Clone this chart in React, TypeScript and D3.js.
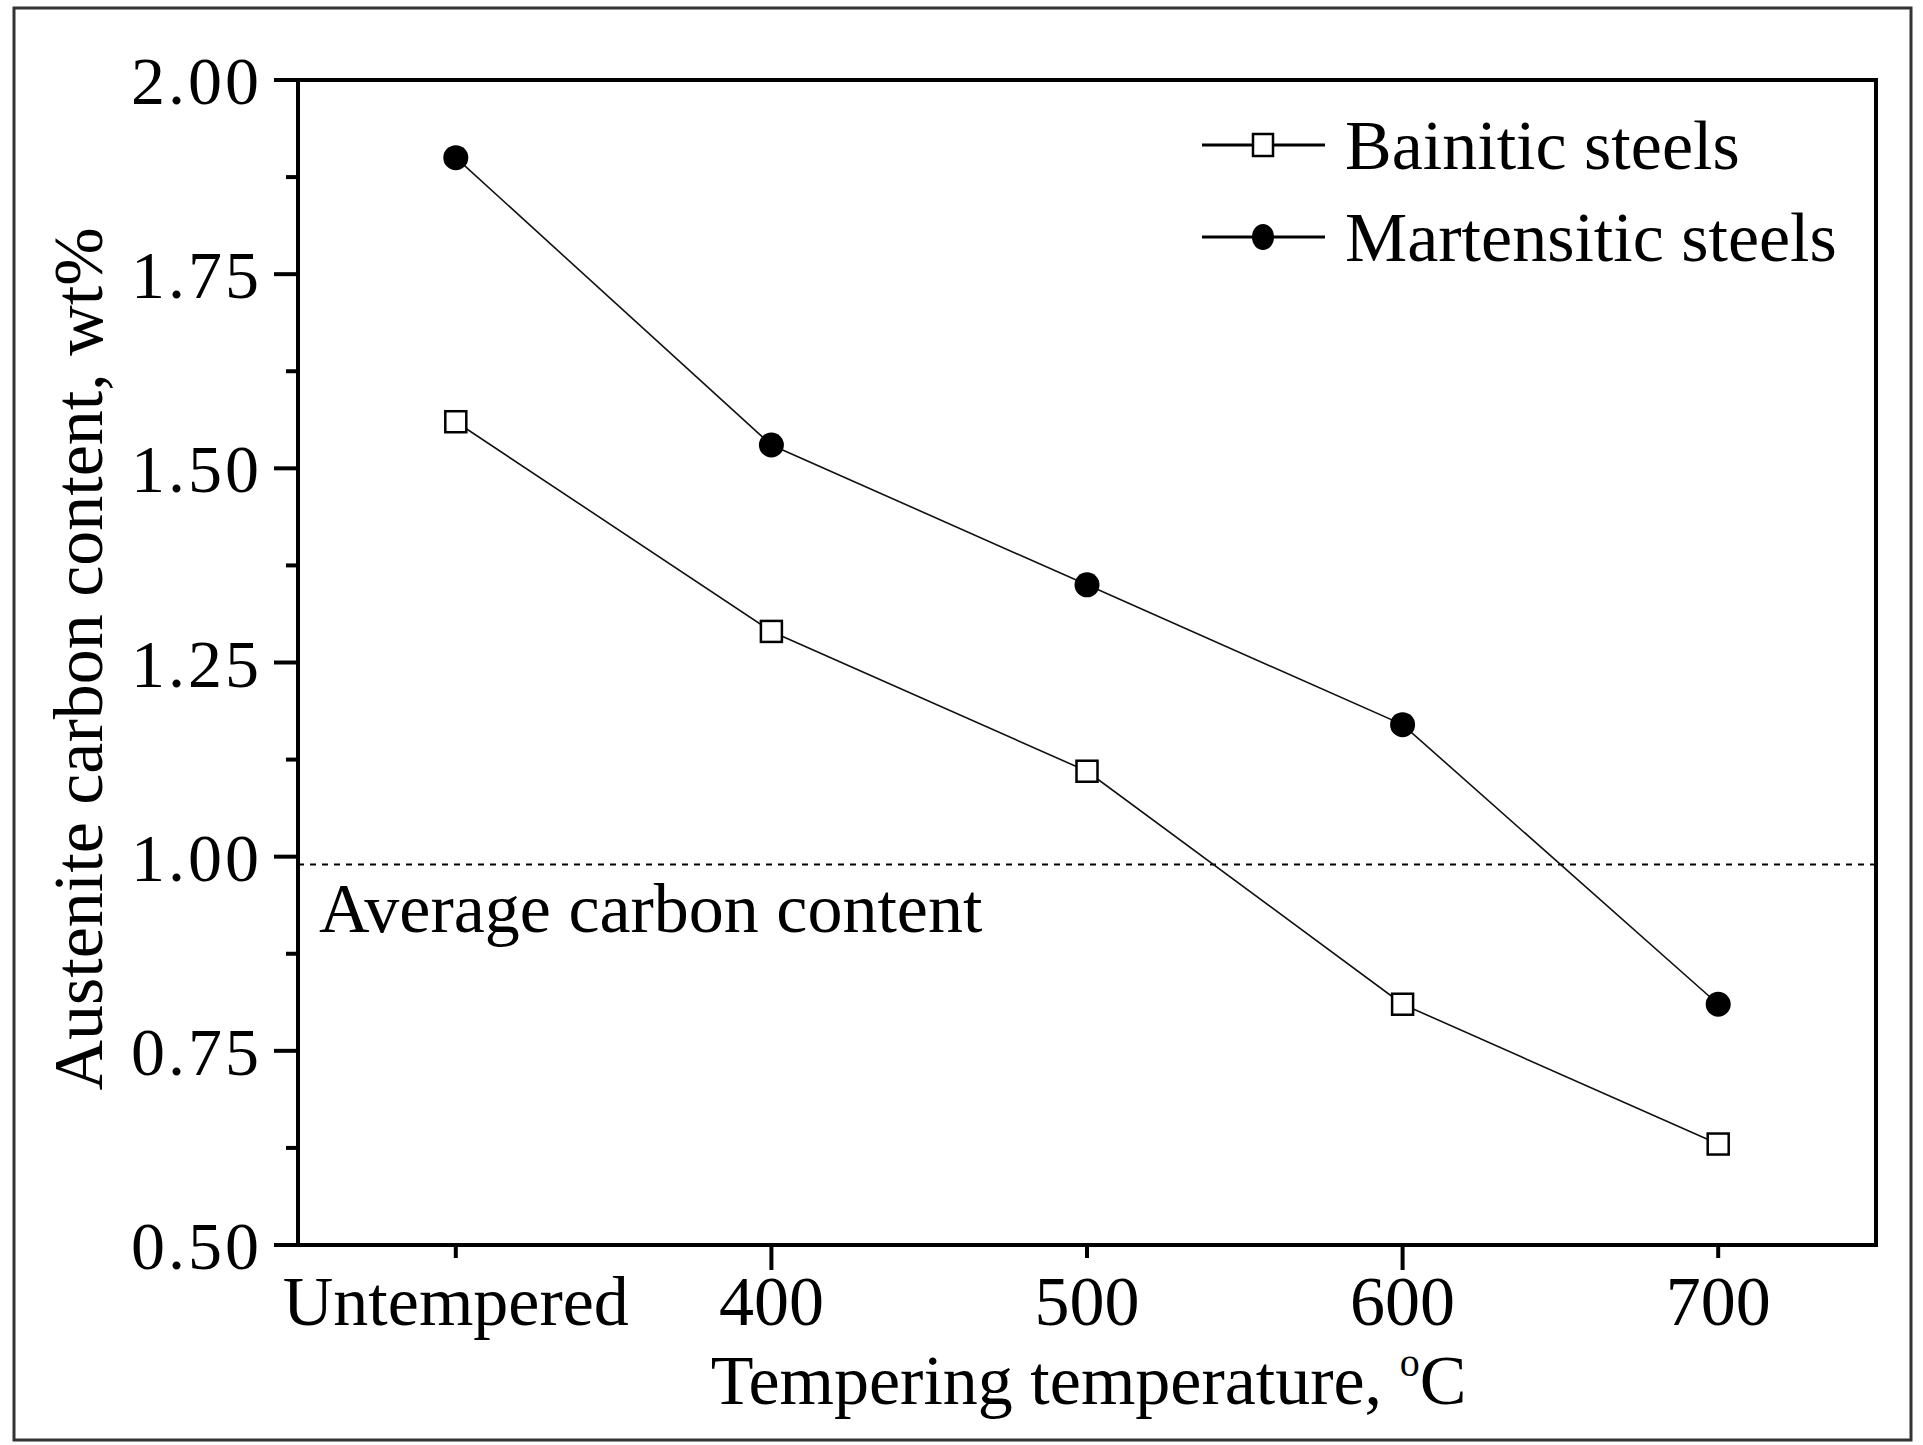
import React, { useRef, useEffect } from 'react';
import * as d3 from 'd3';

// tempering condition on the x axis
const CATEGORIES = ['Untempered', '400', '500', '600', '700'];
const BAINITIC = [1.56, 1.29, 1.11, 0.81, 0.63];
const MARTENSITIC = [1.9, 1.53, 1.35, 1.17, 0.81];
const Y_TICKS = [0.5, 0.75, 1.0, 1.25, 1.5, 1.75, 2.0];
const Y_MINOR = [0.625, 0.875, 1.125, 1.375, 1.625, 1.875];
const AVERAGE_CARBON = 0.99;

const W = 1923;
const H = 1445;
const FONT = '"Liberation Serif", "Times New Roman", serif';

function App() {
  const ref = useRef<SVGSVGElement>(null);

  useEffect(() => {
    const svg = d3.select(ref.current);
    svg.selectAll('*').remove();

    const left = 298, right = 1876, top = 80, bottom = 1245;

    const x = d3.scaleLinear().domain([-0.5, 4.5]).range([left, right]);
    const y = d3.scaleLinear().domain([0.5, 2.0]).range([bottom, top]);

    svg.append('rect').attr('width', W).attr('height', H).attr('fill', '#fff');

    // outer frame
    svg.append('rect')
      .attr('x', 14).attr('y', 8)
      .attr('width', 1897).attr('height', 1432)
      .attr('fill', 'none')
      .attr('stroke', '#333')
      .attr('stroke-width', 3);

    // plot box
    svg.append('rect')
      .attr('x', left).attr('y', top)
      .attr('width', right - left).attr('height', bottom - top)
      .attr('fill', 'none')
      .attr('stroke', '#000')
      .attr('stroke-width', 4);

    // y ticks
    const yAxis = svg.append('g');
    Y_TICKS.forEach(v => {
      yAxis.append('line')
        .attr('x1', left - 24).attr('x2', left)
        .attr('y1', y(v)).attr('y2', y(v))
        .attr('stroke', '#000').attr('stroke-width', 4);
      yAxis.append('text')
        .attr('x', left - 36)
        .attr('y', y(v) + 24)
        .attr('text-anchor', 'end')
        .attr('font-family', FONT)
        .attr('font-size', 68)
        .attr('letter-spacing', 3)
        .text(v.toFixed(2));
    });
    Y_MINOR.forEach(v => {
      yAxis.append('line')
        .attr('x1', left - 12).attr('x2', left)
        .attr('y1', y(v)).attr('y2', y(v))
        .attr('stroke', '#000').attr('stroke-width', 4);
    });

    // x ticks
    const xAxis = svg.append('g');
    CATEGORIES.forEach((c, i) => {
      const len = i % 2 === 1 ? 25 : 13;
      xAxis.append('line')
        .attr('x1', x(i)).attr('x2', x(i))
        .attr('y1', bottom).attr('y2', bottom + len)
        .attr('stroke', '#000').attr('stroke-width', 4);
      xAxis.append('text')
        .attr('x', x(i))
        .attr('y', bottom + 80)
        .attr('text-anchor', 'middle')
        .attr('font-family', FONT)
        .attr('font-size', 70)
        .text(c);
    });

    // axis titles
    const xTitle = svg.append('text')
      .attr('x', (699 + 1478) / 2)
      .attr('y', 1404)
      .attr('text-anchor', 'middle')
      .attr('font-family', FONT)
      .attr('font-size', 70);
    xTitle.append('tspan').text('Tempering temperature, ');
    xTitle.append('tspan').attr('font-size', 40).attr('dy', -28).text('o');
    xTitle.append('tspan').attr('dy', 28).text('C');

    svg.append('text')
      .attr('transform', `translate(102, 659) rotate(-90)`)
      .attr('text-anchor', 'middle')
      .attr('font-family', FONT)
      .attr('font-size', 70)
      .text('Austenite carbon content, wt%');

    // average carbon line
    svg.append('line')
      .attr('x1', left).attr('x2', right)
      .attr('y1', y(AVERAGE_CARBON)).attr('y2', y(AVERAGE_CARBON))
      .attr('stroke', '#000')
      .attr('stroke-width', 2)
      .attr('stroke-dasharray', '6,6');
    svg.append('text')
      .attr('x', 319)
      .attr('y', 932)
      .attr('font-family', FONT)
      .attr('font-size', 70)
      .text('Average carbon content');

    const line = d3.line<number>()
      .x((d, i) => x(i))
      .y(d => y(d));

    // series
    svg.append('path')
      .attr('d', line(BAINITIC))
      .attr('fill', 'none')
      .attr('stroke', '#111')
      .attr('stroke-width', 1.6);
    svg.append('path')
      .attr('d', line(MARTENSITIC))
      .attr('fill', 'none')
      .attr('stroke', '#111')
      .attr('stroke-width', 1.6);

    svg.append('g').selectAll('rect')
      .data(BAINITIC)
      .enter()
      .append('rect')
      .attr('x', (d, i) => x(i) - 10.5)
      .attr('y', d => y(d) - 10.5)
      .attr('width', 21).attr('height', 21)
      .attr('fill', '#fff')
      .attr('stroke', '#000')
      .attr('stroke-width', 2.5);

    svg.append('g').selectAll('circle')
      .data(MARTENSITIC)
      .enter()
      .append('circle')
      .attr('cx', (d, i) => x(i))
      .attr('cy', d => y(d))
      .attr('r', 12.5)
      .attr('fill', '#000');

    // legend
    const legend = svg.append('g');
    [['Bainitic steels', 'square', 145], ['Martensitic steels', 'circle', 237]].forEach(([label, shape, ly]) => {
      const row = legend.append('g').attr('transform', `translate(0, ${ly})`);
      row.append('line')
        .attr('x1', 1202).attr('x2', 1325)
        .attr('y1', 0).attr('y2', 0)
        .attr('stroke', '#000').attr('stroke-width', 3);
      if (shape === 'square') {
        row.append('rect')
          .attr('x', 1253).attr('y', -11)
          .attr('width', 20).attr('height', 22)
          .attr('fill', '#fff').attr('stroke', '#000').attr('stroke-width', 2.5);
      } else {
        row.append('ellipse')
          .attr('cx', 1263).attr('cy', 0)
          .attr('rx', 11).attr('ry', 13)
          .attr('fill', '#000');
      }
      row.append('text')
        .attr('x', 1345)
        .attr('y', 24)
        .attr('font-family', FONT)
        .attr('font-size', 70)
        .text(label as string);
    });
  }, []);

  return (
    <svg
      ref={ref}
      width={W}
      height={H}
      style={{ position: 'absolute', left: 0, top: 0, display: 'block' }}
    />
  );
}

export default App;
